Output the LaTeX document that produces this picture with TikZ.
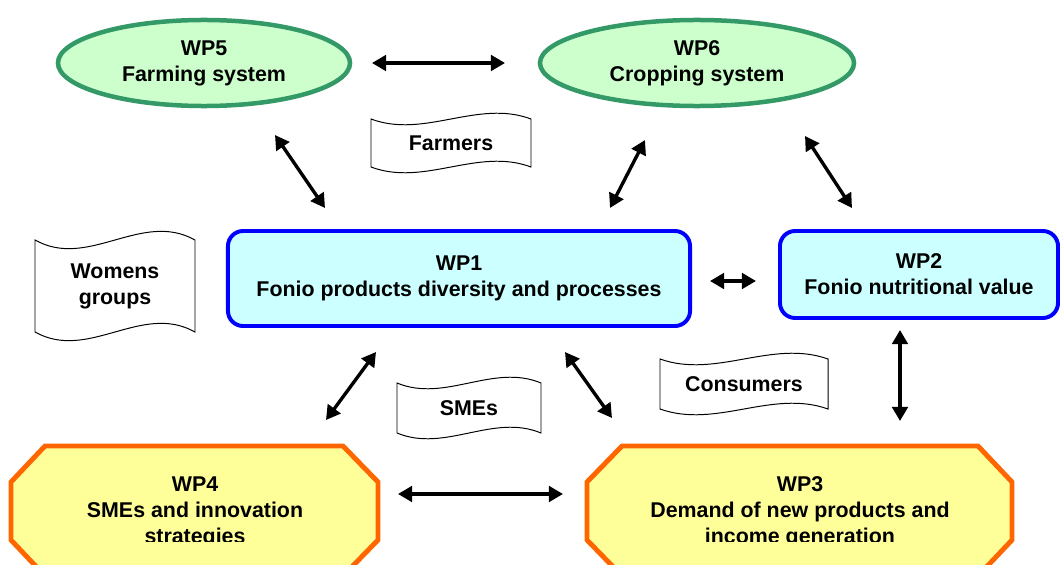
\documentclass[tikz,border=0pt]{standalone}
\usepackage{fontspec}
\setmainfont{Liberation Sans}
\usetikzlibrary{arrows.meta,shapes.geometric}
\definecolor{WPGreen}{HTML}{339966}
\definecolor{WPMint}{HTML}{CCFFCC}
\definecolor{WPBlue}{HTML}{0000FF}
\definecolor{WPCyan}{HTML}{CCFFFF}
\definecolor{WPOrange}{HTML}{FF6600}
\definecolor{WPYellow}{HTML}{FFFF99}
% wavy flag outline: center node, half width, half height, wave (pixel units)
\newcommand{\tapeoutline}[4]{%
  \draw[tape, shift={(#1)}] (-#2,-#3) .. controls (-#2/3,-#3+#4) and (#2/3,-#3-#4) .. (#2,-#3)
    -- (#2,#3) .. controls (#2/3,#3-#4) and (-#2/3,#3+#4) .. (-#2,#3) -- cycle;}

\begin{document}
\begin{tikzpicture}[x=0.025cm, y=-0.025cm,
  every node/.style={font=\fontsize{15.2}{18.5}\selectfont\bfseries, align=center, inner sep=0pt},
  systembox/.style={ellipse, draw=WPGreen, line width=3.2pt, fill=WPMint},
  foniobox/.style={rounded corners=0.38cm, draw=WPBlue, line width=2.8pt, fill=WPCyan},
  chainbox/.style={draw=WPOrange, line width=3.5pt, fill=WPYellow},
  tape/.style={draw=black, line width=0.7pt},
  link/.style={{Triangle[length=10pt,width=11pt]}-{Triangle[length=10pt,width=11pt]}, line width=2.4pt}
]
\useasboundingbox (0,0) rectangle (1060,565);
\clip (0,0) rectangle (1060,565);

% work packages
\node[systembox, minimum width=7.3cm, minimum height=2.15cm] (wp5) at (204,63) {WP5\\Farming system};
\node[systembox, minimum width=7.85cm, minimum height=2.15cm] (wp6) at (697,63) {WP6\\Cropping system};
\node[foniobox, minimum width=11.55cm, minimum height=2.375cm] (wp1) at (459,278.5) {WP1\\Fonio products diversity and processes};
\node[foniobox, minimum width=6.95cm, minimum height=2.175cm] (wp2) at (919,274.5) {WP2\\Fonio nutritional value};
\draw[chainbox] (45,446) -- (343,446) -- (378,482) -- (378,540) -- (343,576)
  -- (45,576) -- (11,540) -- (11,482) -- cycle;
\draw[chainbox] (622,446) -- (978,446) -- (1012,482) -- (1012,540) -- (978,576)
  -- (622,576) -- (587,540) -- (587,482) -- cycle;
\begin{scope}
  \clip (0,0) rectangle (1060,541);
  \node (wp4) at (195,512) {WP4\\SMEs and innovation\\strategies};
  \node (wp3) at (800,512) {WP3\\Demand of new products and\\income generation};
\end{scope}

% actors
\node (farmers) at (451,143) {Farmers};
\node (womens) at (115,286) {Womens\\groups};
\node (smes) at (469,408) {SMEs};
\node (consumers) at (744,384) {Consumers};
\tapeoutline{farmers}{80}{24}{20}
\tapeoutline{womens}{80}{46}{30}
\tapeoutline{smes}{72}{25}{20}
\tapeoutline{consumers}{84}{25}{20}

% arrow ends
\coordinate (l56a) at (372,63);  \coordinate (l56b) at (505,63);
\coordinate (l51a) at (275,135); \coordinate (l51b) at (325,208);
\coordinate (l61a) at (645,140); \coordinate (l61b) at (610,208);
\coordinate (l62a) at (805,136); \coordinate (l62b) at (852,208);
\coordinate (l12a) at (710,281); \coordinate (l12b) at (756,281);
\coordinate (l14a) at (376,352); \coordinate (l14b) at (326,420);
\coordinate (l13a) at (565,352); \coordinate (l13b) at (612,418);
\coordinate (l23a) at (900,330); \coordinate (l23b) at (900,421);
\coordinate (l43a) at (398,494); \coordinate (l43b) at (563,494);
\draw[link] (l56a) -- (l56b);
\draw[link] (l51a) -- (l51b);
\draw[link] (l61a) -- (l61b);
\draw[link] (l62a) -- (l62b);
\draw[link] (l12a) -- (l12b);
\draw[link] (l14a) -- (l14b);
\draw[link] (l13a) -- (l13b);
\draw[link] (l23a) -- (l23b);
\draw[link] (l43a) -- (l43b);
\end{tikzpicture}
\end{document}
